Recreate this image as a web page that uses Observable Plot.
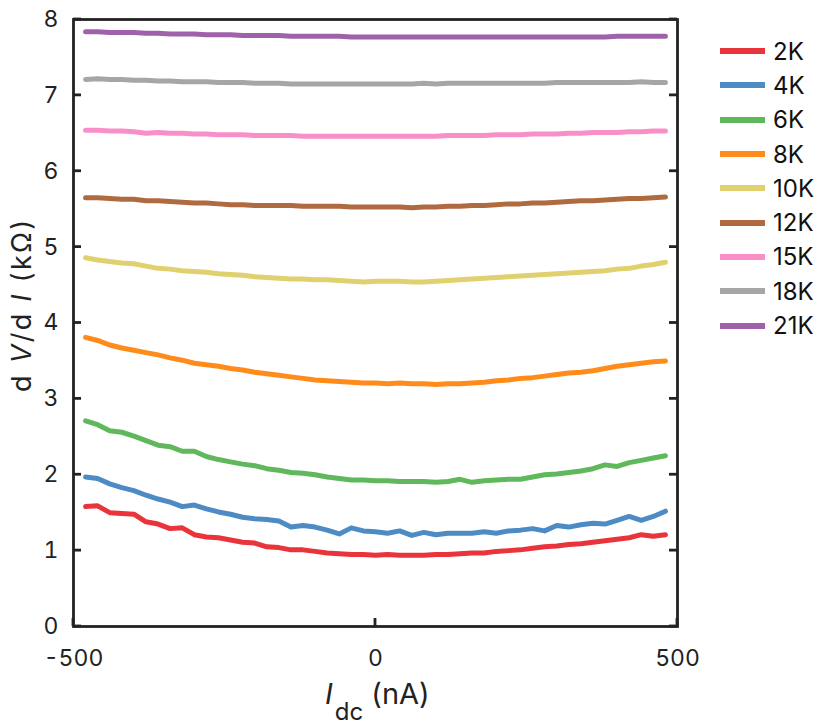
<!DOCTYPE html>
<html><head><meta charset="utf-8">
<script src="https://cdn.jsdelivr.net/npm/d3@7"></script>
<script src="https://cdn.jsdelivr.net/npm/@observablehq/plot@0.6"></script>
<style>
body{margin:0;background:#fff;}
#wrap{position:relative;width:830px;height:728px;font-family:Inter,"Liberation Sans",Arial,sans-serif;}
#legend{position:absolute;left:720px;top:34px;}
.item{display:flex;align-items:center;height:34.3px;font-size:24px;color:#111;}
.sw{width:45px;height:6px;margin-right:8px;}
</style></head><body><div id="wrap"><div id="legend"></div></div>
<script>
const currentNA = [-480,-460,-440,-420,-400,-380,-360,-340,-320,-300,-280,-260,-240,-220,-200,-180,-160,-140,-120,-100,-80,-60,-40,-20,0,20,40,60,80,100,120,140,160,180,200,220,240,260,280,300,320,340,360,380,400,420,440,460,480];

const r2K = [1.58,1.59,1.50,1.49,1.48,1.38,1.35,1.29,1.30,1.21,1.18,1.17,1.14,1.11,1.10,1.05,1.04,1.01,1.01,0.99,0.97,0.96,0.95,0.95,0.94,0.95,0.94,0.94,0.94,0.95,0.95,0.96,0.97,0.97,0.99,1.00,1.01,1.03,1.05,1.06,1.08,1.09,1.11,1.13,1.15,1.17,1.21,1.19,1.21];
const r4K = [1.97,1.95,1.88,1.83,1.79,1.73,1.68,1.64,1.58,1.60,1.55,1.51,1.48,1.44,1.42,1.41,1.39,1.31,1.33,1.31,1.27,1.22,1.30,1.26,1.25,1.23,1.26,1.20,1.24,1.21,1.23,1.23,1.23,1.25,1.23,1.26,1.27,1.29,1.26,1.33,1.31,1.34,1.36,1.35,1.40,1.45,1.40,1.45,1.52];
const r6K = [2.71,2.66,2.58,2.56,2.51,2.45,2.39,2.37,2.31,2.31,2.24,2.20,2.17,2.14,2.12,2.08,2.06,2.03,2.02,2.00,1.97,1.95,1.93,1.93,1.92,1.92,1.91,1.91,1.91,1.90,1.91,1.94,1.90,1.92,1.93,1.94,1.94,1.97,2.00,2.01,2.03,2.05,2.08,2.13,2.11,2.16,2.19,2.22,2.25];
const r8K = [3.81,3.77,3.71,3.67,3.64,3.61,3.58,3.54,3.51,3.47,3.45,3.43,3.40,3.38,3.35,3.33,3.31,3.29,3.27,3.25,3.24,3.23,3.22,3.21,3.21,3.20,3.21,3.20,3.20,3.19,3.20,3.20,3.21,3.22,3.24,3.25,3.27,3.28,3.30,3.32,3.34,3.35,3.37,3.40,3.43,3.45,3.47,3.49,3.50];
const r10K = [4.86,4.83,4.81,4.79,4.78,4.75,4.72,4.71,4.69,4.68,4.67,4.65,4.64,4.63,4.61,4.60,4.59,4.58,4.58,4.57,4.57,4.56,4.55,4.54,4.55,4.55,4.55,4.54,4.54,4.55,4.56,4.57,4.58,4.59,4.60,4.61,4.62,4.63,4.64,4.65,4.66,4.67,4.68,4.69,4.71,4.72,4.75,4.77,4.80];
const r12K = [5.65,5.65,5.64,5.63,5.63,5.61,5.61,5.60,5.59,5.58,5.58,5.57,5.56,5.56,5.55,5.55,5.55,5.55,5.54,5.54,5.54,5.54,5.53,5.53,5.53,5.53,5.53,5.52,5.53,5.53,5.54,5.54,5.55,5.55,5.56,5.57,5.57,5.58,5.58,5.59,5.60,5.61,5.61,5.62,5.63,5.64,5.64,5.65,5.66];
const r15K = [6.54,6.54,6.53,6.53,6.52,6.50,6.51,6.50,6.50,6.49,6.49,6.48,6.48,6.48,6.47,6.47,6.47,6.47,6.46,6.46,6.46,6.46,6.46,6.46,6.46,6.46,6.46,6.46,6.46,6.46,6.47,6.47,6.47,6.47,6.48,6.48,6.48,6.49,6.49,6.49,6.50,6.50,6.51,6.51,6.51,6.52,6.52,6.53,6.53];
const r18K = [7.21,7.22,7.21,7.21,7.20,7.20,7.19,7.19,7.18,7.18,7.18,7.17,7.17,7.17,7.16,7.16,7.16,7.15,7.15,7.15,7.15,7.15,7.15,7.15,7.15,7.15,7.15,7.15,7.16,7.15,7.16,7.16,7.16,7.16,7.16,7.16,7.16,7.16,7.16,7.17,7.17,7.17,7.17,7.17,7.17,7.17,7.18,7.17,7.17];
const r21K = [7.84,7.84,7.83,7.83,7.83,7.82,7.82,7.81,7.81,7.81,7.80,7.80,7.80,7.79,7.79,7.79,7.79,7.78,7.78,7.78,7.78,7.78,7.77,7.77,7.77,7.77,7.77,7.77,7.77,7.77,7.77,7.77,7.77,7.77,7.77,7.77,7.77,7.77,7.77,7.77,7.77,7.77,7.77,7.77,7.78,7.78,7.78,7.78,7.78];

const temps = ["2K","4K","6K","8K","10K","12K","15K","18K","21K"];
const seriesValues = [r2K, r4K, r6K, r8K, r10K, r12K, r15K, r18K, r21K];
const colors = ["#e8343a","#4d8bc4","#5fb85c","#ff8c1a","#e0d06e","#b06a40","#f98fc8","#a6a6a6","#a061ab"];
const yTicks = [0,1,2,3,4,5,6,7,8];
const xTicks = [-500,0,500];

const rows = temps.flatMap((t, k) => currentNA.map((x, i) => ({x, y: seriesValues[k][i], T: t})));

const W = 830, H = 728, ML = 73, MR = 153, MT = 19, MB = 102, TICK = 8;
const fmt = d => String(d);
const plot = Plot.plot({
  width: W, height: H,
  marginLeft: ML, marginRight: MR, marginTop: MT, marginBottom: MB,
  style: {fontFamily: "Inter, 'Liberation Sans', Arial, sans-serif", fontSize: "23px", color: "#222", background: "#fff"},
  x: {domain: [-500, 500]},
  y: {domain: [0, 8]},
  color: {domain: temps, range: colors},
  marks: [
    Plot.line(rows, {x: "x", y: "y", z: "T", stroke: "T", strokeWidth: 5, strokeLinejoin: "round", strokeLinecap: "round"}),
    Plot.axisY({ticks: yTicks, tickFormat: fmt, tickSize: 0, tickPadding: 15, label: null, fill: "#222"}),
    Plot.axisX({ticks: xTicks, tickFormat: fmt, tickSize: 0, tickPadding: 23, label: null, fill: "#222"}),
    Plot.frame({stroke: "#222", strokeWidth: 2.8})
  ]
});
document.getElementById("wrap").prepend(plot);

const svg = d3.select(plot);
// inward ticks, placed through Plot's own scales
const sx = plot.scale("x"), sy = plot.scale("y");
const tg = svg.append("g").attr("stroke", "#222").attr("stroke-width", 2.8);
const x0 = sx.apply(-500), x1 = sx.apply(500), yb = sy.apply(0);
yTicks.forEach(v => {
  const py = sy.apply(v);
  tg.append("line").attr("x1", x0).attr("x2", x0 + TICK).attr("y1", py).attr("y2", py);
  tg.append("line").attr("x1", x1).attr("x2", x1 - TICK).attr("y1", py).attr("y2", py);
});
xTicks.forEach(v => {
  const px = sx.apply(v);
  tg.append("line").attr("x1", px).attr("x2", px).attr("y1", yb).attr("y2", yb - TICK);
});

// y title
const yt = svg.append("text")
  .attr("transform", "translate(31,306) rotate(-90)")
  .attr("text-anchor", "middle")
  .attr("font-size", 27)
  .attr("fill", "#222")
  .attr("textLength", 172)
  .attr("lengthAdjust", "spacing");
yt.append("tspan").text("d ");
yt.append("tspan").attr("font-style", "italic").text("V");
yt.append("tspan").text("/d ");
yt.append("tspan").attr("font-style", "italic").text("I");
yt.append("tspan").text(" (kΩ)");

// x title
const xt = svg.append("text")
  .attr("x", 325).attr("y", 704)
  .attr("text-anchor", "start")
  .attr("font-size", 29)
  .attr("fill", "#222");
xt.append("tspan").attr("font-style", "italic").text("I");
xt.append("tspan").attr("font-size", 24).attr("dy", 16).attr("dx", 2).text("dc");
xt.append("tspan").attr("dy", -16).text(" (nA)");

// legend
const leg = d3.select("#legend");
temps.forEach((t, k) => {
  const it = leg.append("div").attr("class", "item");
  it.append("div").attr("class", "sw").style("background", colors[k]);
  it.append("span").text(t);
});
</script></body></html>
